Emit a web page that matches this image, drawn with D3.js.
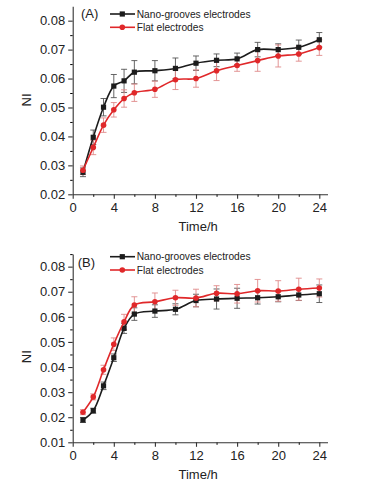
<!DOCTYPE html>
<html lang="en">
<head>
    <meta charset="UTF-8">
    <title>NI over time</title>
    <script src="https://d3js.org/d3.v7.min.js"></script>
    <style>
        body, html {
            margin: 0;
            padding: 0;
            background: #fff;
            overflow: hidden;
        }
        svg text {
            font-family: "Liberation Sans", Arial, sans-serif;
            fill: #222;
        }
    </style>
</head>
<body>
    <div id="chart"></div>
    <script>
        // Data
        var hours = [1, 2, 3, 4, 5, 6, 8, 10, 12, 14, 16, 18, 20, 22, 24];
        var xTicks = [0, 4, 8, 12, 16, 20, 24];

        var aNano    = [0.0276, 0.0397, 0.0501, 0.0574, 0.0592, 0.0622, 0.0627, 0.0635, 0.0653, 0.0663, 0.0668, 0.0700, 0.0700, 0.0708, 0.0734];
        var aNanoErr = [0.0015, 0.0025, 0.0030, 0.0040, 0.0040, 0.0040, 0.0035, 0.0036, 0.0025, 0.0022, 0.0020, 0.0025, 0.0020, 0.0025, 0.0025];
        var aFlat    = [0.0283, 0.0362, 0.0439, 0.0492, 0.0531, 0.0551, 0.0563, 0.0596, 0.0600, 0.0627, 0.0645, 0.0662, 0.0678, 0.0685, 0.0707];
        var aFlatErr = [0.0015, 0.0025, 0.0025, 0.0025, 0.0030, 0.0030, 0.0028, 0.0034, 0.0030, 0.0034, 0.0020, 0.0037, 0.0038, 0.0025, 0.0027];

        var bNano    = [0.0189, 0.0226, 0.0325, 0.0437, 0.0554, 0.0611, 0.0623, 0.0630, 0.0665, 0.0671, 0.0674, 0.0676, 0.0680, 0.0687, 0.0692];
        var bNanoErr = [0.0010, 0.0010, 0.0015, 0.0015, 0.0020, 0.0025, 0.0025, 0.0022, 0.0025, 0.0040, 0.0040, 0.0025, 0.0020, 0.0022, 0.0035];
        var bFlat    = [0.0220, 0.0281, 0.0389, 0.0491, 0.0580, 0.0647, 0.0660, 0.0676, 0.0675, 0.0694, 0.0692, 0.0704, 0.0703, 0.0710, 0.0715];
        var bFlatErr = [0.0010, 0.0012, 0.0018, 0.0025, 0.0030, 0.0033, 0.0035, 0.0030, 0.0035, 0.0030, 0.0037, 0.0045, 0.0041, 0.0044, 0.0036];

        var aYTicks = [0.02, 0.03, 0.04, 0.05, 0.06, 0.07, 0.08];
        var bYTicks = [0.01, 0.02, 0.03, 0.04, 0.05, 0.06, 0.07, 0.08];

        var seriesNames = ["Nano-grooves electrodes", "Flat electrodes"];

        var black = "#1c1c1c", red = "#e0282a";

        var svg = d3.select("#chart").append("svg")
            .attr("width", 366)
            .attr("height", 483);

        function drawPanel(p) {
            var g = svg.append("g");

            var x = d3.scaleLinear().domain([0, 24.8]).range([72.7, 72.7 + 24.8 * 10.275]);
            var y = d3.scaleLinear().domain([p.yMin, 0.085]).range([p.bottom, p.top]);

            // minor ticks
            var minorX = d3.range(2, 25, 4);
            var minorY = d3.range(p.yMin + 0.005, 0.085, 0.01);

            g.append("g")
                .attr("transform", "translate(0," + p.bottom + ")")
                .call(d3.axisBottom(x).tickValues(minorX).tickSize(2.5).tickFormat(""))
                .call(s => s.select(".domain").remove());
            g.append("g")
                .attr("transform", "translate(" + x(0) + ",0)")
                .call(d3.axisLeft(y).tickValues(minorY).tickSize(2.5).tickFormat(""))
                .call(s => s.select(".domain").remove());

            var xAxis = g.append("g")
                .attr("transform", "translate(0," + p.bottom + ")")
                .call(d3.axisBottom(x).tickValues(xTicks).tickSize(4.5).tickSizeOuter(0).tickPadding(4));
            var yAxis = g.append("g")
                .attr("transform", "translate(" + x(0) + ",0)")
                .call(d3.axisLeft(y).tickValues(p.yTicks).tickSize(4.5).tickSizeOuter(0).tickPadding(3)
                    .tickFormat(d3.format(".2f")));

            [xAxis, yAxis].forEach(a => {
                a.selectAll("path, line").attr("stroke", "#333").attr("stroke-width", 1.1);
                a.selectAll("text").style("font-size", "13px").attr("fill", "#222");
            });

            g.append("text")
                .attr("x", (x(0) + x(24.8)) / 2 - 2)
                .attr("y", p.bottom + 37)
                .attr("text-anchor", "middle")
                .style("font-size", "13px")
                .text("Time/h");

            g.append("text")
                .attr("transform", "translate(" + 31 + "," + p.nlY + ") rotate(-90)")
                .attr("text-anchor", "middle")
                .style("font-size", "13px")
                .text("NI");

            g.append("text")
                .attr("x", p.labelX)
                .attr("y", p.labelY)
                .style("font-size", "13px")
                .text(p.label);

            var line = d3.line()
                .x((d, i) => x(hours[i]))
                .y(d => y(d))
                .curve(d3.curveCatmullRom.alpha(0.5));

            p.series.forEach(function (s) {
                var eg = g.append("g");
                hours.forEach(function (h, i) {
                    var cx = x(h), lo = y(s.values[i] - s.err[i]), hi = y(s.values[i] + s.err[i]);
                    eg.append("line").attr("x1", cx).attr("x2", cx).attr("y1", lo).attr("y2", hi);
                    eg.append("line").attr("x1", cx - 3).attr("x2", cx + 3).attr("y1", lo).attr("y2", lo);
                    eg.append("line").attr("x1", cx - 3).attr("x2", cx + 3).attr("y1", hi).attr("y2", hi);
                });
                eg.selectAll("line").attr("stroke", s.errColor).attr("stroke-width", 0.9);
            });

            p.series.forEach(function (s) {
                g.append("path")
                    .datum(s.values)
                    .attr("d", line)
                    .attr("fill", "none")
                    .attr("stroke", s.color)
                    .attr("stroke-width", 1.6);
                var mg = g.append("g");
                s.values.forEach(function (v, i) {
                    if (s.shape === "square") {
                        mg.append("rect")
                            .attr("x", x(hours[i]) - 2.6).attr("y", y(v) - 2.6)
                            .attr("width", 5.2).attr("height", 5.2)
                            .attr("fill", s.color);
                    } else {
                        mg.append("circle")
                            .attr("cx", x(hours[i])).attr("cy", y(v)).attr("r", 2.8)
                            .attr("fill", s.color);
                    }
                });
            });

            // legend
            p.series.forEach(function (s, i) {
                var ly = p.legendY + i * 13.3;
                g.append("line")
                    .attr("x1", 110).attr("x2", 135).attr("y1", ly).attr("y2", ly)
                    .attr("stroke", s.color).attr("stroke-width", 1.6);
                if (s.shape === "square") {
                    g.append("rect").attr("x", 122.3 - 2.6).attr("y", ly - 2.6)
                        .attr("width", 5.2).attr("height", 5.2).attr("fill", s.color);
                } else {
                    g.append("circle").attr("cx", 122.3).attr("cy", ly).attr("r", 2.8).attr("fill", s.color);
                }
                g.append("text")
                    .attr("x", 136.7).attr("y", ly + 3.7)
                    .style("font-size", "10.2px")
                    .text(seriesNames[i]);
            });
        }

        drawPanel({
            yMin: 0.02, yTicks: aYTicks, top: 6.2, bottom: 194.3,
            nlY: 100, label: "(A)", labelX: 81, labelY: 17.5, legendY: 14,
            series: [
                {values: aNano, err: aNanoErr, color: black, errColor: "#555", shape: "square"},
                {values: aFlat, err: aFlatErr, color: red, errColor: "#e08a8a", shape: "circle"}
            ]
        });

        drawPanel({
            yMin: 0.01, yTicks: bYTicks, top: 254.1, bottom: 442.3,
            nlY: 356.7, label: "(B)", labelX: 77.7, labelY: 266.5, legendY: 256.7,
            series: [
                {values: bNano, err: bNanoErr, color: black, errColor: "#555", shape: "square"},
                {values: bFlat, err: bFlatErr, color: red, errColor: "#e08a8a", shape: "circle"}
            ]
        });
    </script>
</body>
</html>
